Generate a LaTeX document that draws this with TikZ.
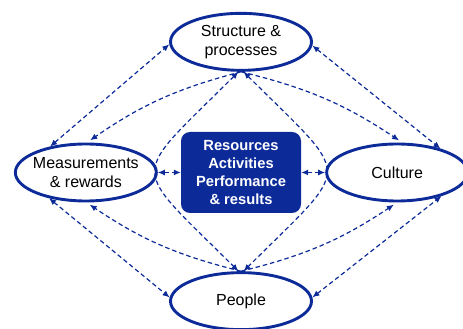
\documentclass[tikz,border=0pt]{standalone}
\usepackage{fontspec}
\setmainfont{Liberation Sans}
\usetikzlibrary{arrows.meta, positioning, shapes.geometric}

\begin{document}
\begin{tikzpicture}[x=1pt, y=1pt]
  \definecolor{navy}{RGB}{12,42,152}
  \tikzset{
    blob/.style={ellipse, draw=navy, line width=2.9pt, fill=white,
      minimum width=141pt, minimum height=57pt,
      inner xsep=-10pt, inner ysep=0pt, align=center,
      font=\fontsize{16}{19.5}\selectfont},
    corebox/.style={rectangle, rounded corners=9pt, fill=navy,
      minimum width=120pt, minimum height=81pt, align=center, text=white,
      font=\fontsize{14.7}{17.7}\selectfont\bfseries},
    link/.style={{Latex[length=7pt, width=6pt]}-{Latex[length=7pt, width=6pt]},
      draw=navy, line width=1.2pt, dash pattern=on 4.5pt off 3pt},
    flow/.style={-{Latex[length=7pt, width=6pt]}, draw=navy, line width=1.2pt,
      dash pattern=on 4.5pt off 3pt, shorten >=4pt}
  }
  \clip (0,0) rectangle (463,329);
  \node[corebox] (core) at (241,156.5) {Resources\\Activities\\Performance\\\& results};
  \node[blob, above=60pt of core] (struct) {Structure \&\\processes};
  \node[blob, left=23pt of core] (meas) {Measurements\\\& rewards};
  \node[blob, right=24pt of core] (cult) {Culture};
  \node[blob, below=58pt of core] (people) {People};
  % outer diamond
  \draw[link] (meas.144) -- (struct.182);
  \draw[link] (struct.-3) -- (cult.29);
  \draw[link] (meas.215) -- (people.177);
  \draw[link] (people.3) -- (cult.332);
  % side links to the core
  \draw[link] (meas.east) -- (core.west);
  \draw[link] (core.east) -- (cult.west);
  % arcs round the core
  \draw[link] (struct.265) to[out=225, in=135, looseness=2] (people.95);
  \draw[link] (struct.275) to[out=-45, in=45, looseness=2] (people.85);
  % curved feeds
  \draw[flow] (struct.south) to[bend right=10] (meas.88);
  \draw[flow] (struct.south) to[bend left=10] (cult.80);
  \draw[flow] (people.north) to[bend left=10] (meas.271);
  \draw[flow] (people.north) to[bend right=10] (cult.270);
\end{tikzpicture}
\end{document}
